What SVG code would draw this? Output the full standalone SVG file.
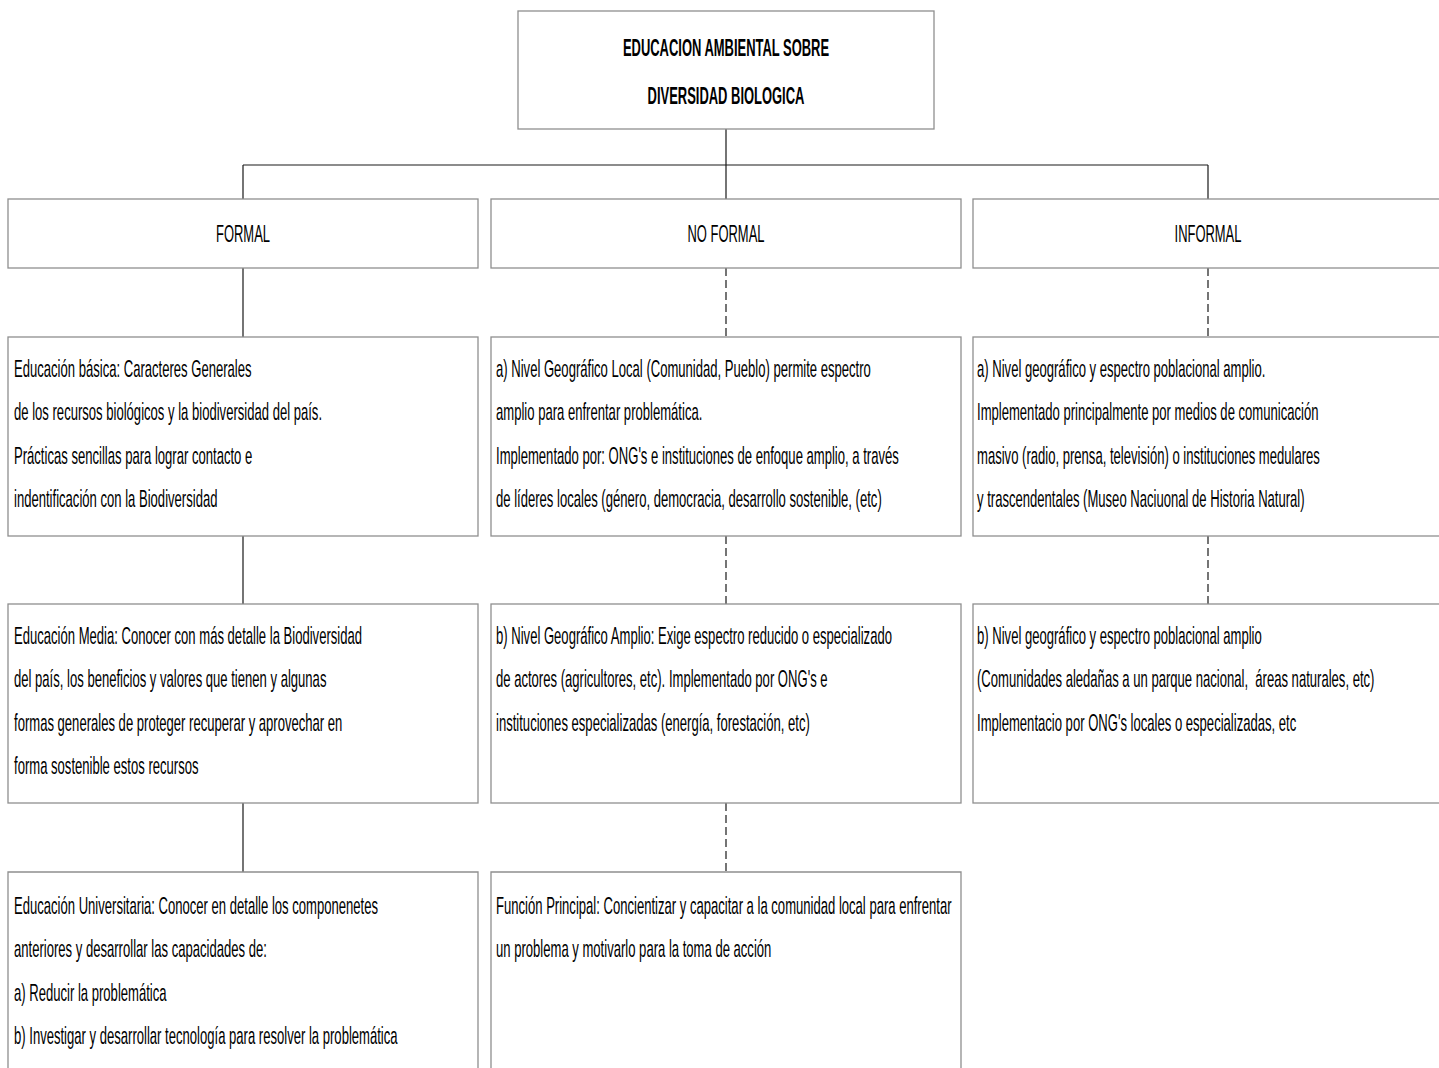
<svg xmlns="http://www.w3.org/2000/svg" width="1439" height="1068" viewBox="0 0 1439 1068">
<style>
.box{fill:#fff;stroke:#8f8f8f;stroke-width:1.3}
.c{fill:none;stroke:#1a1a1a;stroke-width:1.2}
.d{fill:none;stroke:#1a1a1a;stroke-width:1.2;stroke-dasharray:8 4}
text{font-family:"Liberation Sans",Arial,sans-serif;font-size:24px;fill:#000}
.ttl{font-weight:bold;text-anchor:middle}
.hd{text-anchor:middle}
</style>
<rect width="1439" height="1068" fill="#fff"/>
<g id="connectors">
<path class="c" d="M726 129V165M243 165H1208M243 165V199M726 165V199M1208 165V199"/>
<path class="c" d="M243 268V337M243 536V604M243 803V872"/>
<path class="d" d="M726 268V337M726 536V604M726 803V872"/>
<path class="d" d="M1208 268V337M1208 536V604"/>
</g>
<g id="root">
<rect class="box" x="518" y="11" width="416" height="118"/>
<text class="ttl" transform="translate(726 0) scale(0.54 1)"><tspan x="0" y="56">EDUCACION AMBIENTAL SOBRE</tspan><tspan x="0" y="104">DIVERSIDAD BIOLOGICA</tspan></text>
</g>
<g id="formal">
<rect class="box" x="8" y="199" width="470" height="69"/>
<text class="hd" transform="translate(243 0) scale(0.54 1)" x="0" y="242">FORMAL</text>
</g>
<g id="noformal">
<rect class="box" x="491" y="199" width="470" height="69"/>
<text class="hd" transform="translate(726 0) scale(0.54 1)" x="0" y="242">NO FORMAL</text>
</g>
<g id="informal">
<rect class="box" x="973" y="199" width="470" height="69"/>
<text class="hd" transform="translate(1208 0) scale(0.54 1)" x="0" y="242">INFORMAL</text>
</g>
<g id="basica">
<rect class="box" x="8" y="337" width="470" height="199"/>
<text transform="translate(14 0) scale(0.545 1)"><tspan x="0" y="377">Educación básica: Caracteres Generales</tspan><tspan x="0" y="420.5">de los recursos biológicos y la biodiversidad del país.</tspan><tspan x="0" y="464">Prácticas sencillas para lograr contacto e</tspan><tspan x="0" y="507.5">indentificación con la Biodiversidad</tspan></text>
</g>
<g id="nf-local">
<rect class="box" x="491" y="337" width="470" height="199"/>
<text transform="translate(496 0) scale(0.545 1)"><tspan x="0" y="377">a) Nivel Geográfico Local (Comunidad, Pueblo) permite espectro</tspan><tspan x="0" y="420.5">amplio para enfrentar problemática.</tspan><tspan x="0" y="464">Implementado por: ONG's e instituciones de enfoque amplio, a través</tspan><tspan x="0" y="507.5">de líderes locales (género, democracia, desarrollo sostenible, (etc)</tspan></text>
</g>
<g id="inf-a">
<rect class="box" x="973" y="337" width="470" height="199"/>
<text transform="translate(977 0) scale(0.545 1)"><tspan x="0" y="377">a) Nivel geográfico y espectro poblacional amplio.</tspan><tspan x="0" y="420.5">Implementado principalmente por medios de comunicación</tspan><tspan x="0" y="464">masivo (radio, prensa, televisión) o instituciones medulares</tspan><tspan x="0" y="507.5">y trascendentales (Museo Naciuonal de Historia Natural)</tspan></text>
</g>
<g id="media">
<rect class="box" x="8" y="604" width="470" height="199"/>
<text transform="translate(14 0) scale(0.545 1)"><tspan x="0" y="644">Educación Media: Conocer con más detalle la Biodiversidad</tspan><tspan x="0" y="687.5">del país, los beneficios y valores que tienen y algunas</tspan><tspan x="0" y="731">formas generales de proteger recuperar y aprovechar en</tspan><tspan x="0" y="774.5">forma sostenible estos recursos</tspan></text>
</g>
<g id="nf-amplio">
<rect class="box" x="491" y="604" width="470" height="199"/>
<text transform="translate(496 0) scale(0.545 1)"><tspan x="0" y="644">b) Nivel Geográfico Amplio: Exige espectro reducido o especializado</tspan><tspan x="0" y="687.5">de actores (agricultores, etc). Implementado por ONG's e</tspan><tspan x="0" y="731">instituciones especializadas (energía, forestación, etc)</tspan></text>
</g>
<g id="inf-b">
<rect class="box" x="973" y="604" width="470" height="199"/>
<text transform="translate(977 0) scale(0.545 1)"><tspan x="0" y="644">b) Nivel geográfico y espectro poblacional amplio</tspan><tspan x="0" y="687.5">(Comunidades aledañas a un parque nacional,&#160; áreas naturales, etc)</tspan><tspan x="0" y="731">Implementacio por ONG's locales o especializadas, etc</tspan></text>
</g>
<g id="universitaria">
<path class="box" d="M8 1075V872H478V1075"/>
<text transform="translate(14 0) scale(0.545 1)"><tspan x="0" y="914">Educación Universitaria: Conocer en detalle los componenetes</tspan><tspan x="0" y="957.5">anteriores y desarrollar las capacidades de:</tspan><tspan x="0" y="1001">a) Reducir la problemática</tspan><tspan x="0" y="1044.5">b) Investigar y desarrollar tecnología para resolver la problemática</tspan></text>
</g>
<g id="funcion">
<path class="box" d="M491 1075V872H961V1075"/>
<text transform="translate(496 0) scale(0.545 1)"><tspan x="0" y="914">Función Principal: Concientizar y capacitar a la comunidad local para enfrentar</tspan><tspan x="0" y="957.5">un problema y motivarlo para la toma de acción</tspan></text>
</g>
</svg>
